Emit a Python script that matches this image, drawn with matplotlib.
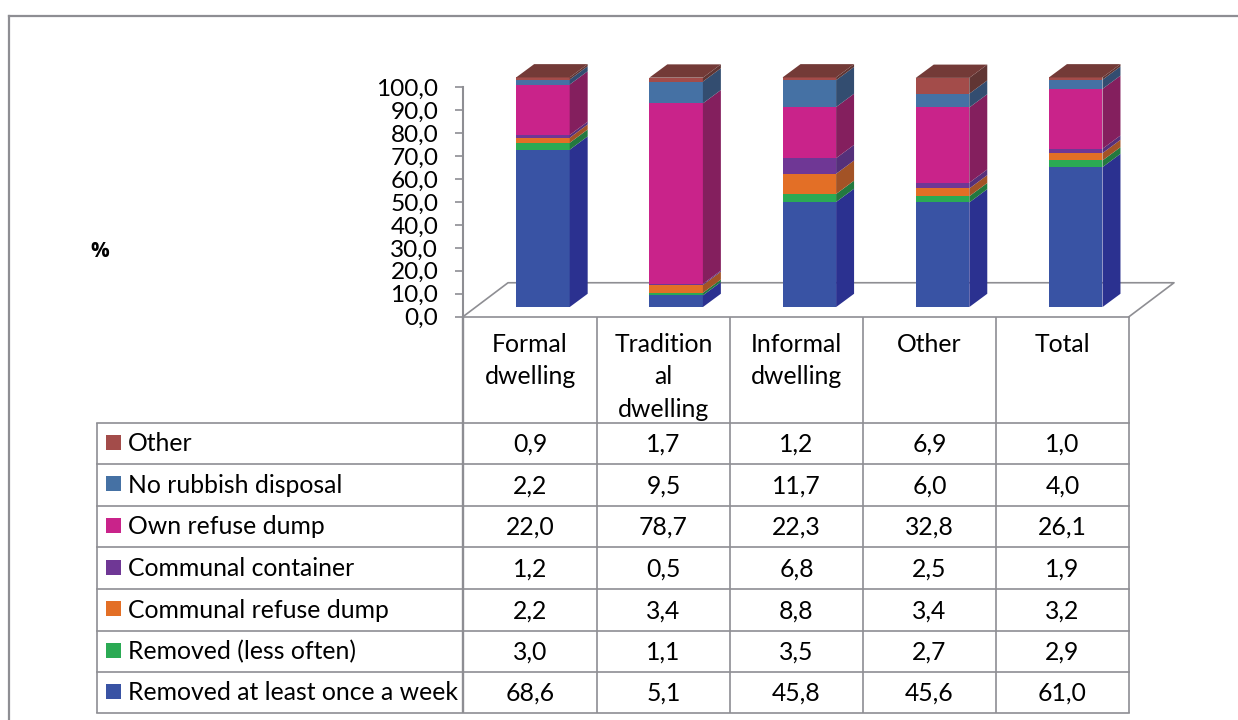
import matplotlib
matplotlib.use("Agg")
import matplotlib.pyplot as plt
from matplotlib.patches import Rectangle
import numpy as np

plt.rcParams['font.family'] = ['Lato', 'DejaVu Sans']

# ---- data ----
categories = ["Formal\ndwelling", "Tradition\nal\ndwelling", "Informal\ndwelling", "Other", "Total"]
series_names = ["Removed at least once a week", "Removed (less often)", "Communal refuse dump",
                "Communal container", "Own refuse dump", "No rubbish disposal", "Other"]
removed_weekly = [68.6, 5.1, 45.8, 45.6, 61.0]
removed_less = [3.0, 1.1, 3.5, 2.7, 2.9]
communal_dump = [2.2, 3.4, 8.8, 3.4, 3.2]
communal_container = [1.2, 0.5, 6.8, 2.5, 1.9]
own_dump = [22.0, 78.7, 22.3, 32.8, 26.1]
no_disposal = [2.2, 9.5, 11.7, 6.0, 4.0]
other = [0.9, 1.7, 1.2, 6.9, 1.0]
value_labels = [["68,6", "5,1", "45,8", "45,6", "61,0"],
                ["3,0", "1,1", "3,5", "2,7", "2,9"],
                ["2,2", "3,4", "8,8", "3,4", "3,2"],
                ["1,2", "0,5", "6,8", "2,5", "1,9"],
                ["22,0", "78,7", "22,3", "32,8", "26,1"],
                ["2,2", "9,5", "11,7", "6,0", "4,0"],
                ["0,9", "1,7", "1,2", "6,9", "1,0"]]
series = [removed_weekly, removed_less, communal_dump, communal_container, own_dump, no_disposal, other]
ticks = list(range(0, 101, 10))
tick_labels = [f"{t},0" for t in ticks]

# ---- style ----
front = ["#3953A4", "#2BAA54", "#E36F26", "#6F3795", "#C9238A", "#4571A4", "#A34C4A"]
side = ["#2B3190", "#23793F", "#A35326", "#55307A", "#841F5E", "#334D70", "#603533"]
top_col = "#733A37"
grey = "#8E8E93"
W, H = 1238, 720
FS = 17.8
LW = 1.2

fig = plt.figure(figsize=(W / 100, H / 100), dpi=100, facecolor="white")

# pixel-space overlay for frame and table
ov = fig.add_axes([0, 0, 1, 1], zorder=1)
ov.set_xlim(0, W); ov.set_ylim(H, 0); ov.axis("off")
ov.plot([9, 9], [16, H], color=grey, lw=LW + .4)
ov.plot([9, W], [16, 16], color=grey, lw=LW + .4)

col_x = [463, 597, 730, 863, 996, 1129]
row_y = [422.7, 464, 505.7, 547, 589, 630.5, 672, 713]
for x in col_x:
    ov.plot([x, x], [317, 713], color=grey, lw=LW + (0.5 if x == 463 else 0), solid_capstyle="butt")
ov.plot([97, 97], [422.7, 713], color=grey, lw=LW, solid_capstyle="butt")
ov.plot([463, 1129], [317, 317], color=grey, lw=LW)
for y in row_y:
    ov.plot([97, 1129], [y, y], color=grey, lw=LW)

for i, c in enumerate(categories):
    cx = (col_x[i] + col_x[i + 1]) / 2
    for j, line in enumerate(c.split("\n")):
        ov.text(cx, 344.5 + j * 32.5, line, ha="center", va="center", fontsize=FS, color="black")

n = len(series)
for r in range(n):
    s = n - 1 - r
    cy = (row_y[r] + row_y[r + 1]) / 2
    ov.add_patch(Rectangle((106, cy - 8.5), 15, 15, facecolor=front[s], edgecolor="none"))
    ov.text(128, cy + 0.5, series_names[s], ha="left", va="center", fontsize=FS, color="black")
    for i in range(5):
        cx = (col_x[i] + col_x[i + 1]) / 2
        ov.text(cx, cy + 1, value_labels[s][i], ha="center", va="center", fontsize=FS, color="black")

ov.text(100, 251.5, "%", ha="center", va="center", fontsize=15, fontweight="bold",
        family=["Open Sans", "DejaVu Sans"], color="black")

# chart axes: x = category cells, y = percent
ax = fig.add_axes([463 / W, (H - 316.7) / H, 666 / W, 229.4 / H], zorder=2)
ax.set_xlim(0, 5); ax.set_ylim(0, 100)
ax.patch.set_alpha(0)
for k in ["top", "right", "bottom"]:
    ax.spines[k].set_visible(False)
ax.spines["left"].set_color(grey); ax.spines["left"].set_linewidth(LW + .3)
ax.set_xticks([])
ax.set_yticks(ticks); ax.set_yticklabels(tick_labels, fontsize=17.6)
ax.tick_params(axis="y", length=5.8, width=LW, color=grey, pad=12)

# floor
fdx, fdy = 0.338, 14.8
ax.plot([0, fdx, 5 + fdx, 5], [0, fdy, fdy, 0], color=grey, lw=LW, clip_on=False, zorder=1)

# bars
base = 4.2
width = 0.402
ddx, ddy = 0.135, 5.8
x = np.arange(5) + 0.6
bottom = np.full(5, base)
for s, vals in enumerate(series):
    vals = np.array(vals)
    ax.bar(x, vals, width=width, bottom=bottom, color=front[s], linewidth=0, zorder=3, clip_on=False)
    for i in range(5):
        xr = x[i] + width / 2
        b, t = bottom[i], bottom[i] + vals[i]
        ax.fill([xr, xr + ddx, xr + ddx, xr], [b, b + ddy, t + ddy, t],
                color=side[s], linewidth=0, zorder=3, clip_on=False)
    bottom = bottom + vals
for i in range(5):
    xl, xr = x[i] - width / 2, x[i] + width / 2
    t = bottom[i]
    ax.fill([xl, xr, xr + ddx, xl + ddx], [t, t, t + ddy, t + ddy],
            color=top_col, linewidth=0, zorder=4, clip_on=False)

fig.savefig("out.png", dpi=100, facecolor="white")
